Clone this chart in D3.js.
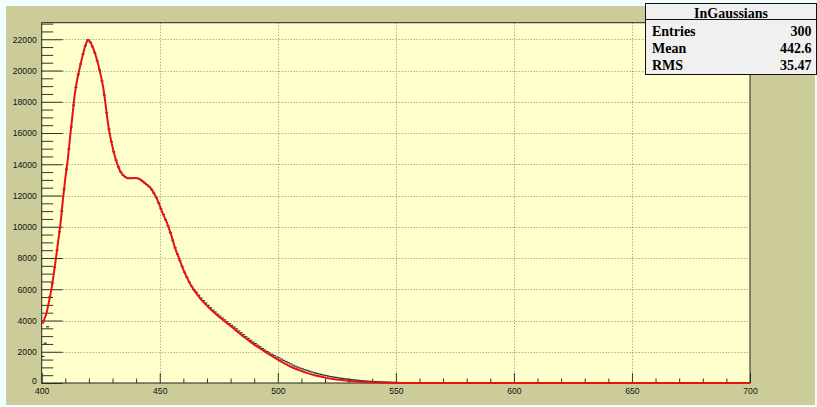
<!DOCTYPE html>
<html>
<head>
<meta charset="utf-8">
<script src="https://cdn.jsdelivr.net/npm/d3@7/dist/d3.min.js"></script>
<style>
  html, body { margin: 0; padding: 0; background: #f0fefe; }
  svg { display: block; }
</style>
</head>
<body>
<svg id="chart" width="817" height="407"></svg>
<script>
// Histogram bin contents, one bin per unit starting at binStart
const binStart = 400;
const counts = [
  1700, 2550, 3600, 5520, 6380, 7400, 8520, 9680, 11000, 12420,
  13680, 14970, 16400, 17780, 18920, 19750, 20420, 21050, 21580, 21950,
  21820, 21520, 21130, 20620, 20030, 19330, 18430, 17300, 16250, 15450,
  14800, 14260, 13830, 13510, 13310, 13180, 13120, 13100, 13100, 13120,
  13100, 13040, 12940, 12820, 12700, 12570, 12390, 12150, 11880, 11530,
  11150, 10790, 10440, 10060, 9620, 9140, 8660, 8240, 7850, 7450,
  7090, 6760, 6460, 6190, 5960, 5820, 5610, 5430, 5270, 5120,
  4970, 4820, 4660, 4540, 4400, 4280, 4160, 4040, 3920, 3800,
  3690, 3580, 3460, 3330, 3210, 3090, 2960, 2850, 2730, 2620,
  2520, 2420, 2320, 2210, 2110, 2010, 1920, 1830, 1750, 1660,
  1610, 1530, 1450, 1370, 1300, 1220, 1140, 1070, 1010, 950,
  900, 850, 800, 750, 700, 655, 615, 575, 540, 505,
  470, 440, 410, 385, 360, 335, 310, 290, 270, 250,
  230, 210, 195, 180, 165, 150, 140, 125, 115, 105,
  95, 88, 80, 73, 67, 62, 57, 52, 46, 41,
  36, 31, 26, 22, 18, 14, 11, 8, 6, 4, 2
];

// Fitted sum-of-Gaussians curve, sampled
const fitX = [
  400.5, 401, 402, 403, 404, 405, 406, 407, 408, 409,
  410, 411, 412, 413, 414, 415, 416, 417, 418, 419,
  419.6, 420, 421, 422, 423, 424, 425, 426, 427, 428,
  429, 430, 431, 432, 433, 434, 435, 436, 437, 438,
  439, 440, 441, 442, 443, 444, 445, 446, 447, 448,
  449, 450, 451, 452, 453, 454, 455, 456, 457, 458,
  459, 460, 461, 462, 463, 464, 465, 466, 467, 468,
  469, 470, 472, 474, 476, 478, 480, 482, 484, 486,
  488, 490, 492, 494, 496, 498, 500, 502, 504, 506,
  508, 510, 512, 514, 516, 518, 520, 522, 524, 526,
  528, 530, 532, 535, 538, 542, 546, 550, 556, 700
];
const fitY = [
  3800, 4050, 4450, 5150, 5900, 6850, 7950, 9100, 10250, 11750,
  13100, 14250, 15700, 17100, 18450, 19400, 20100, 20750, 21350, 21800,
  21970, 21930, 21700, 21350, 20900, 20350, 19700, 18960, 17900, 16700,
  15800, 15100, 14500, 14020, 13630, 13390, 13230, 13130, 13100, 13100,
  13110, 13120, 13080, 13000, 12880, 12760, 12640, 12500, 12280, 12030,
  11720, 11350, 10950, 10620, 10260, 9850, 9400, 8880, 8430, 8050,
  7650, 7250, 6920, 6600, 6310, 6070, 5850, 5640, 5440, 5260,
  5100, 4950, 4650, 4380, 4130, 3890, 3650, 3400, 3150, 2910,
  2680, 2460, 2260, 2060, 1870, 1680, 1490, 1320, 1160, 1010,
  880, 770, 665, 570, 485, 410, 345, 290, 245, 205,
  170, 140, 112, 78, 52, 27, 12, 4, 0, 0
];

// Axis ticks
const xMajor = [400, 450, 500, 550, 600, 650, 700];
const yMajor = [0, 2000, 4000, 6000, 8000, 10000, 12000, 14000, 16000, 18000, 20000, 22000];
const xMinorStep = 10;
const yMinorStep = 500;

// Statistics box
const statsTitle = "InGaussians";
const statsNames = ["Entries", "Mean", "RMS"];
const statsValues = ["300", "442.6", "35.47"];

const svg = d3.select("#chart");

const frame = { left: 41.7, right: 750, top: 22.7, bottom: 383 };
const x = d3.scaleLinear().domain([400, 700]).range([frame.left, frame.right]);
const y = d3.scaleLinear().domain([0, 23060]).range([frame.bottom, frame.top]);

// Canvas pad
svg.append("rect")
  .attr("x", 6).attr("y", 6).attr("width", 809).attr("height", 399)
  .attr("fill", "#cccc9a");

// Plot frame
svg.append("rect")
  .attr("x", frame.left).attr("y", frame.top)
  .attr("width", frame.right - frame.left).attr("height", frame.bottom - frame.top)
  .attr("fill", "#ffffcc");

// Dotted grid
const grid = svg.append("g").attr("stroke", "#8a8a80").attr("stroke-width", 1)
  .attr("stroke-dasharray", "1,2");
grid.selectAll("line.gx").data(xMajor.filter(v => v > 400 && v < 700)).join("line")
  .attr("x1", d => Math.round(x(d)) + 0.5).attr("x2", d => Math.round(x(d)) + 0.5)
  .attr("y1", frame.top).attr("y2", frame.bottom);
grid.selectAll("line.gy").data(yMajor.filter(v => v > 0)).join("line")
  .attr("x1", frame.left).attr("x2", frame.right)
  .attr("y1", d => Math.round(y(d)) + 0.5).attr("y2", d => Math.round(y(d)) + 0.5);

// Minor tick values
const yMinor = d3.range(0, 23060, yMinorStep).filter(v => v % 2000 !== 0);
const xMinor = d3.range(400, 700, xMinorStep).filter(v => v % 50 !== 0);

const font = "'Liberation Sans', Arial, sans-serif";

// Y axis
const yAxisG = svg.append("g").attr("transform", `translate(${frame.left},0)`);
yAxisG.call(d3.axisLeft(y).tickValues(yMajor).tickSize(-21).tickPadding(5)
  .tickFormat(d3.format("d")));
yAxisG.append("g").call(d3.axisLeft(y).tickValues(yMinor).tickSize(-11.5).tickFormat(""));
yAxisG.selectAll(".domain").remove();
yAxisG.selectAll("line").attr("stroke", "#333");
yAxisG.selectAll("text").attr("font-family", font).attr("font-size", 8.6).attr("fill", "#111");
// the zero label sits just above the x-axis labels
yAxisG.selectAll(".tick text").filter(d => d === 0).attr("dy", "0.05em");

// X axis
const xAxisG = svg.append("g").attr("transform", `translate(0,${frame.bottom})`);
xAxisG.call(d3.axisBottom(x).tickValues(xMajor).tickSize(-10).tickPadding(4.5)
  .tickFormat(d3.format("d")));
xAxisG.append("g").call(d3.axisBottom(x).tickValues(xMinor).tickSize(-4.5).tickFormat(""));
xAxisG.selectAll(".domain").remove();
xAxisG.selectAll("line").attr("stroke", "#333");
xAxisG.selectAll("text").attr("font-family", font).attr("font-size", 8.6).attr("fill", "#111");

// Frame border
svg.append("rect")
  .attr("x", frame.left).attr("y", frame.top)
  .attr("width", frame.right - frame.left).attr("height", frame.bottom - frame.top)
  .attr("fill", "none").attr("stroke", "#222").attr("stroke-width", 1);

// Histogram bin contents
svg.append("g").attr("stroke", "#2a2a48").attr("stroke-width", 1.2)
  .selectAll("line").data(counts).join("line")
  .attr("x1", (d, i) => x(binStart + i) - 0.3)
  .attr("x2", (d, i) => x(binStart + i + 1) + 0.3)
  .attr("y1", d => y(d)).attr("y2", d => y(d));

// Fit curve
const line = d3.line().x((d, i) => x(fitX[i])).y(d => y(d)).curve(d3.curveMonotoneX);
svg.append("path").datum(fitY)
  .attr("d", line).attr("fill", "none")
  .attr("stroke", "#ea1010").attr("stroke-width", 2).attr("stroke-linejoin", "round");

// Statistics box
const box = { x: 645.5, y: 3.5, w: 171, h: 71, titleH: 16 };
const sb = svg.append("g");
sb.append("rect").attr("x", box.x).attr("y", box.y).attr("width", box.w).attr("height", box.h)
  .attr("fill", "#f0f0f0").attr("stroke", "#111").attr("stroke-width", 1);
sb.append("line").attr("x1", box.x).attr("x2", box.x + box.w)
  .attr("y1", box.y + box.titleH).attr("y2", box.y + box.titleH)
  .attr("stroke", "#111");
const serif = "'Liberation Serif', 'Times New Roman', serif";
sb.append("text").attr("x", 731).attr("y", 18.3).attr("text-anchor", "middle")
  .attr("font-family", serif).attr("font-weight", "bold").attr("font-size", 14)
  .text(statsTitle);
const rowY = d3.scalePoint().domain(statsNames).range([36.2, 70]);
sb.selectAll("text.nm").data(statsNames).join("text")
  .attr("x", 652).attr("y", d => rowY(d))
  .attr("font-family", serif).attr("font-weight", "bold").attr("font-size", 14)
  .text(d => d);
sb.selectAll("text.vl").data(statsValues).join("text")
  .attr("x", 811.5).attr("y", (d, i) => rowY(statsNames[i])).attr("text-anchor", "end")
  .attr("font-family", serif).attr("font-weight", "bold").attr("font-size", 14)
  .text(d => d);
</script>
</body>
</html>
